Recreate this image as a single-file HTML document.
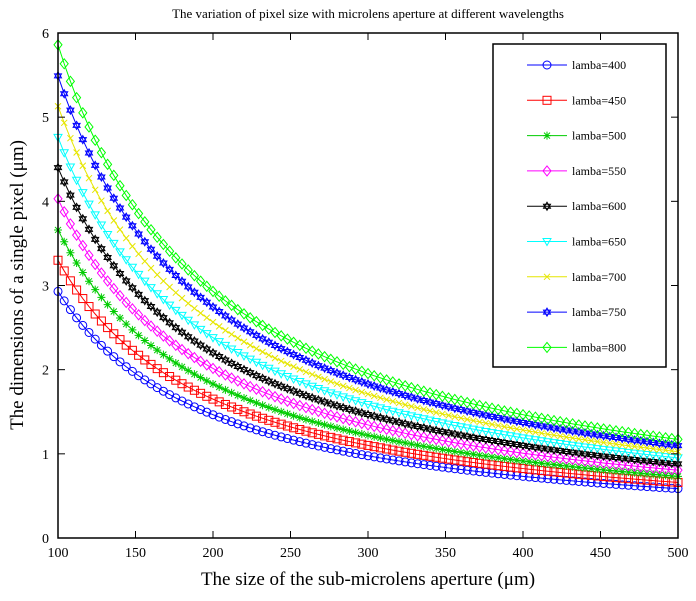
<!DOCTYPE html>
<html><head><meta charset="utf-8"><style>
body{margin:0;background:#fff;}
svg text{font-family:"Liberation Serif",serif;}
</style></head><body>
<svg id="chart" width="696" height="596" xmlns="http://www.w3.org/2000/svg">
<rect width="696" height="596" fill="#fff"/>
<text x="368" y="18" text-anchor="middle" font-size="13">The variation of pixel size with microlens aperture at different wavelengths</text>
<text x="368" y="585" text-anchor="middle" font-size="19">The size of the sub-microlens aperture (μm)</text>
<text transform="translate(23,285) rotate(-90)" text-anchor="middle" font-size="19">The dimensions of a single pixel (μm)</text>
<g id="grid"></g>
<g id="series"></g>
<g id="axes"></g>
<g id="legend"></g>
</svg>
<script>
const wavelengths=[400,450,500,550,600,650,700,750,800];
const yAt100=[2.93,3.30,3.66,4.03,4.40,4.76,5.13,5.49,5.86];
const apertures=[];for(let a=100;a<=500;a+=4)apertures.push(a);
const xTicks=[100,150,200,250,300,350,400,450,500];
const yTicks=[0,1,2,3,4,5,6];
const colors=['#0000ff','#ff0000','#00cc00','#ff00ff','#000000','#00ffff','#e6e600','#0000ff','#00ff00'];
const markers=['circle','square','star','diamond','hexstar','tridown','x','hexstar','diamond'];
const L=58,R=678,T=33,B=538;
const sx=v=>L+(v-100)/400*(R-L), sy=v=>B-v/6*(B-T);
const NS='http://www.w3.org/2000/svg';
function mk(tag,at,parent){const e=document.createElementNS(NS,tag);for(const k in at)e.setAttribute(k,at[k]);parent.appendChild(e);return e;}
function marker(type,x,y,c,g){
  const r=4;let e;
  if(type==='circle')e=mk('circle',{cx:x,cy:y,r:r,fill:'none',stroke:c},g);
  else if(type==='square')e=mk('rect',{x:x-r,y:y-r,width:2*r,height:2*r,fill:'none',stroke:c},g);
  else if(type==='diamond')e=mk('path',{d:`M${x} ${y-r-1}L${x+r} ${y}L${x} ${y+r+1}L${x-r} ${y}Z`,fill:'none',stroke:c},g);
  else if(type==='tridown')e=mk('path',{d:`M${x-r} ${y-r+1}L${x+r} ${y-r+1}L${x} ${y+r}Z`,fill:'none',stroke:c},g);
  else if(type==='x')e=mk('path',{d:`M${x-3} ${y-3}L${x+3} ${y+3}M${x-3} ${y+3}L${x+3} ${y-3}`,stroke:c},g);
  else if(type==='star')e=mk('path',{d:`M${x-r} ${y}L${x+r} ${y}M${x} ${y-r}L${x} ${y+r}M${x-3} ${y-3}L${x+3} ${y+3}M${x-3} ${y+3}L${x+3} ${y-3}`,stroke:c},g);
  else e=mk('path',{d:`M${x} ${y-r}L${x+3.5} ${y+2}L${x-3.5} ${y+2}ZM${x} ${y+r}L${x+3.5} ${y-2}L${x-3.5} ${y-2}Z`,fill:'none',stroke:c},g);
  
  
}
const sg=document.getElementById('series');
wavelengths.forEach((w,i)=>{
  const g=mk('g',{},sg);
  
  
  const pts=apertures.map(a=>[sx(a),sy(yAt100[i]*100/a)]);
  const p=mk('polyline',{points:pts.map(q=>q.join(',')).join(' '),fill:'none',stroke:colors[i],'stroke-width':1},g);
  
  
  pts.forEach(q=>marker(markers[i],q[0],q[1],colors[i],g));
});
const ax=document.getElementById('axes');
const box=mk('rect',{x:L,y:T,width:R-L,height:B-T,fill:'none',stroke:'#000','stroke-width':1.5},ax);


xTicks.forEach(t=>{const x=sx(t);
  mk('line',{x1:x,y1:B,x2:x,y2:B-7,stroke:'#000'},ax);mk('line',{x1:x,y1:T,x2:x,y2:T+7,stroke:'#000'},ax);
  const tx=mk('text',{x:x,y:B+19,'text-anchor':'middle','font-size':14},ax);tx.textContent=t;
  
  });
yTicks.forEach(t=>{const y=sy(t);
  mk('line',{x1:L,y1:y,x2:L+7,y2:y,stroke:'#000'},ax);mk('line',{x1:R,y1:y,x2:R-7,y2:y,stroke:'#000'},ax);
  const tx=mk('text',{x:L-9,y:y+5,'text-anchor':'end','font-size':14},ax);tx.textContent=t;
  
  });
const lg=document.getElementById('legend');
const lb=mk('rect',{x:493,y:44,width:173,height:323,fill:'#fff',stroke:'#000','stroke-width':1.5},lg);


wavelengths.forEach((w,i)=>{const y=65+i*35.3;
  const g=mk('g',{},lg);
  
  
  mk('line',{x1:527,y1:y,x2:567,y2:y,stroke:colors[i]},g);
  marker(markers[i],547,y,colors[i],g);
  const t=mk('text',{x:572,y:y+4,'font-size':12},g);t.textContent='lamba='+w;});
</script>
</body></html>
